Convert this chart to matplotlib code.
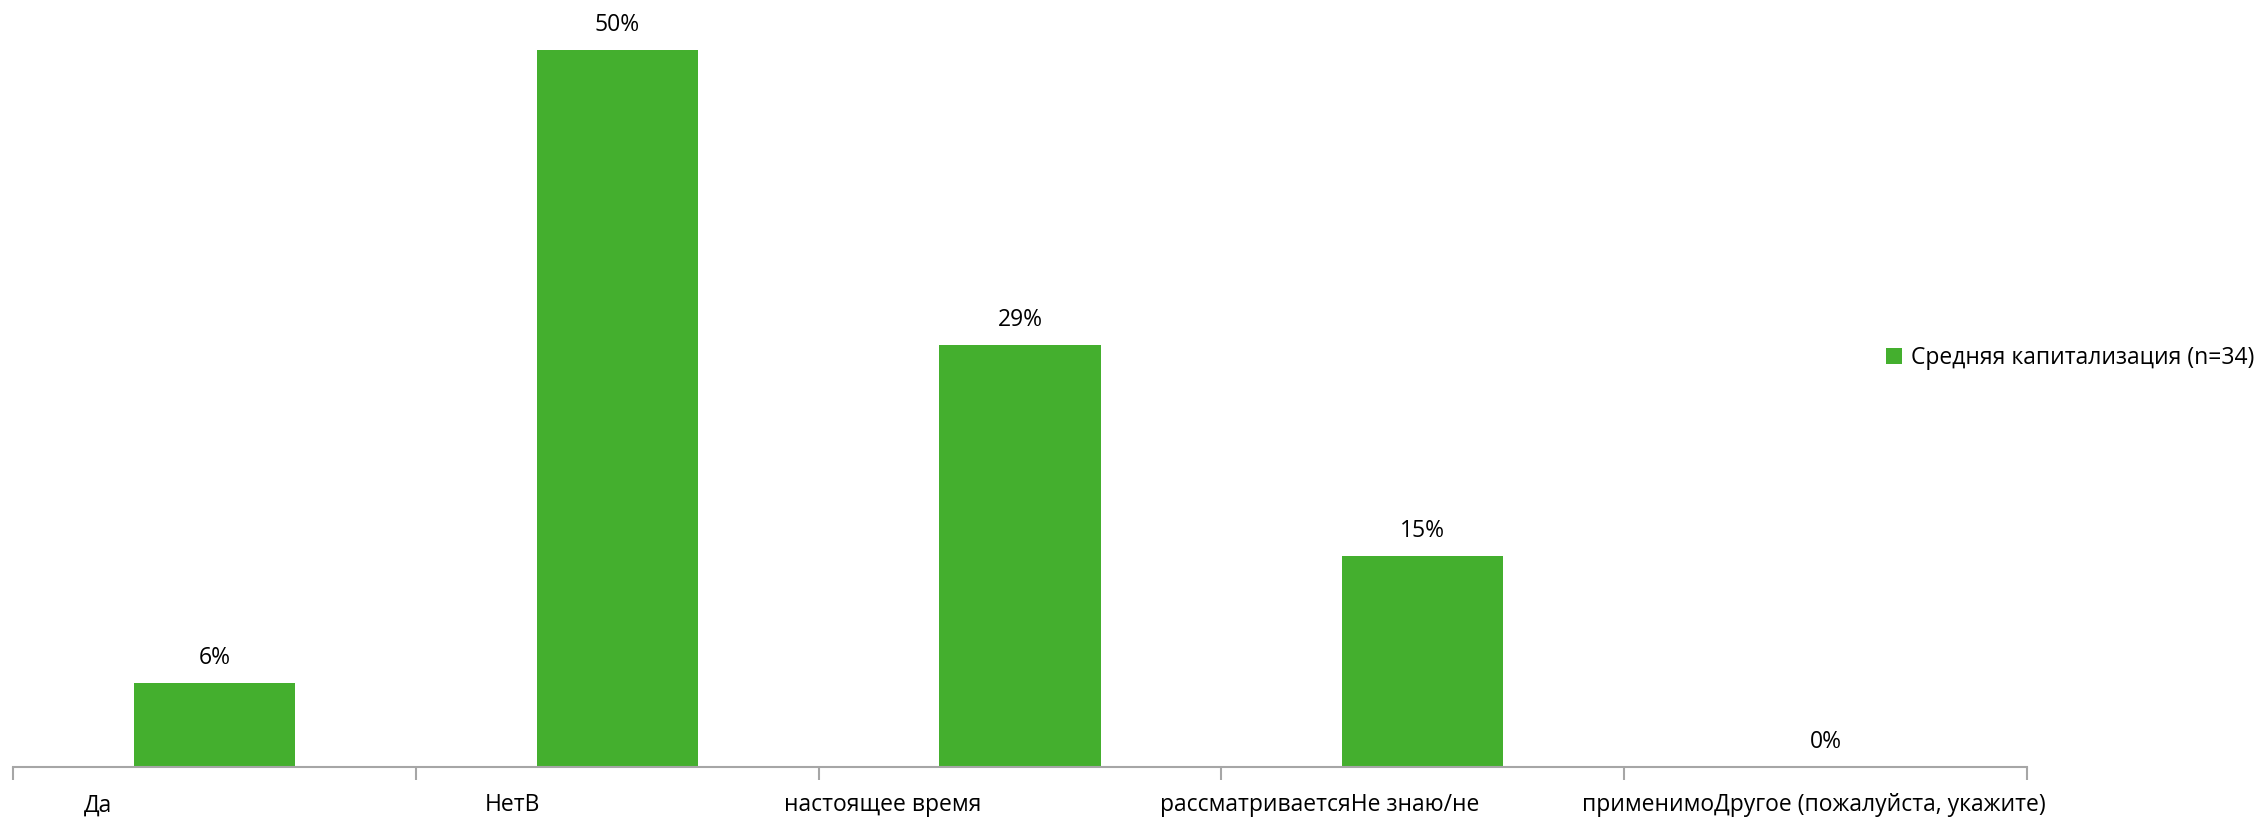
import matplotlib
matplotlib.use("Agg")
import matplotlib.pyplot as plt
from matplotlib.patches import Patch

# Data
categories = ["Да", "Нет", "В настоящее время рассматривается", "Не знаю/не применимо",
              "Другое (пожалуйста, укажите)"]
values = [5.88, 50.0, 29.41, 14.71, 0.0]
value_labels = ["6%", "50%", "29%", "15%", "0%"]
series_name = "Средняя капитализация (n=34)"

# The source chart shows the category names split into odd chunks
tick_texts = ["Да", "НетВ", "настоящее время", "рассматриваетсяНе знаю/не",
              "применимоДругое (пожалуйста, укажите)"]
tick_pos = [-0.29, 0.74, 1.66, 2.745, 3.97]

green = "#44AF2E"
plt.rcParams['font.family'] = ['Open Sans', 'DejaVu Sans']

fig = plt.figure(figsize=(22.62, 8.17), dpi=100)
ax = fig.add_axes([13 / 2262, 50 / 817, (2027 - 13) / 2262, 767 / 817])

x = list(range(len(categories)))
ax.bar(x, values, width=0.4, color=green)
for xi, v, lab in zip(x, values, value_labels):
    ax.annotate(lab, (xi, v), xytext=(0, 18), textcoords="offset points",
                ha="center", va="center", fontsize=16.5, color="black")

ax.set_xlim(-0.5, 4.5)
ax.set_ylim(0, 53.5)

for s in ["top", "right", "left"]:
    ax.spines[s].set_visible(False)
ax.spines["bottom"].set_color("#A6A6A6")
ax.spines["bottom"].set_linewidth(1.5)
ax.set_yticks([])

ax.set_xticks(tick_pos)
ax.set_xticklabels(tick_texts, fontsize=16.5)
ax.tick_params(axis="x", which="major", length=0, pad=19)
ax.set_xticks([i - 0.5 for i in range(len(categories) + 1)], minor=True)
ax.tick_params(axis="x", which="minor", length=9, width=1.5, color="#A6A6A6")

handle = Patch(facecolor=green, edgecolor="none")
fig.legend([handle], [series_name], loc="center left",
           bbox_to_anchor=(1886 / 2262, 1 - 358 / 817), frameon=False,
           fontsize=16.5, handlelength=0.7, handleheight=0.7, handletextpad=0.4,
           borderaxespad=0, borderpad=0)

fig.savefig("out.png", dpi=100)
